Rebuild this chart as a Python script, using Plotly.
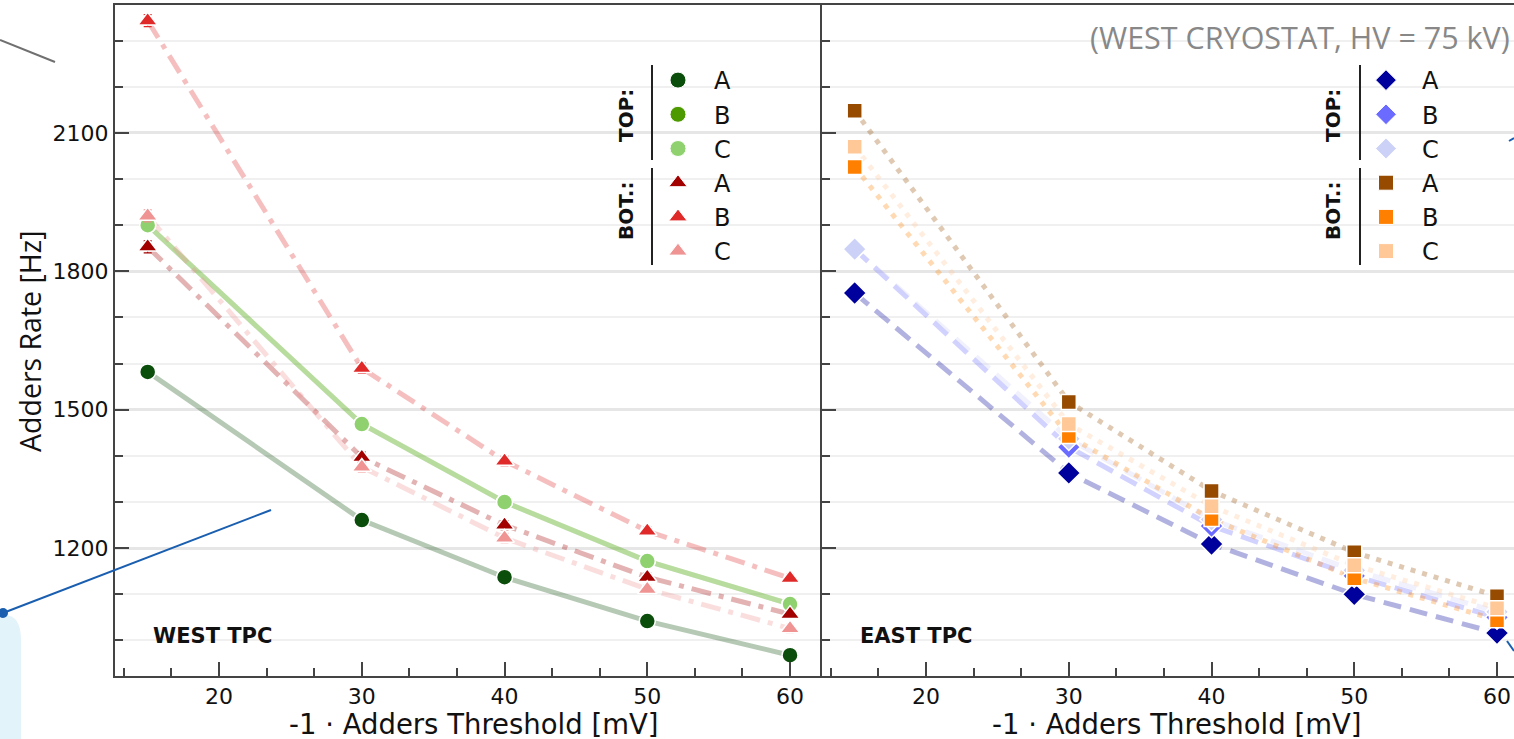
import plotly.graph_objects as go

W, H = 1514, 739

# ---------------- data ----------------
threshold = [15, 30, 40, 50, 60]

west_top_a = [1582, 1261, 1137, 1042, 968]
west_top_b = [1900, 1469, 1300, 1172, 1079]
west_top_c = [1900, 1469, 1300, 1172, 1079]
west_bot_a = [1853, 1397, 1250, 1137, 1057]
west_bot_b = [2343, 1590, 1389, 1237, 1135]
west_bot_c = [1920, 1376, 1222, 1111, 1026]

east_top_a = [1753, 1363, 1209, 1100, 1016]
east_top_b = [1848, 1419, 1248, 1140, 1050]
east_top_c = [1848, 1437, 1262, 1152, 1062]
east_bot_a = [2148, 1517, 1324, 1191, 1096]
east_bot_b = [2026, 1443, 1263, 1135, 1044]
east_bot_c = [2070, 1469, 1291, 1163, 1070]

rate_err = [13, 11, 10, 9, 9]

series_labels = ["A", "B", "C"]
x_title = "-1 · Adders Threshold [mV]"
y_title = "Adders Rate [Hz]"
note = "(WEST CRYOSTAT, HV = 75 kV)"

# ---------------- styles ----------------
def rgba(hexc, a):
    hexc = hexc.lstrip("#")
    r, g, b = int(hexc[0:2], 16), int(hexc[2:4], 16), int(hexc[4:6], 16)
    return f"rgba({r},{g},{b},{a})"

west_top_colors = ["#0b4d0b", "#4c9a00", "#8fd16f"]
west_bot_colors = ["#a30000", "#e02a2a", "#ef9393"]
east_top_colors = ["#00009c", "#6b6bff", "#ccd1f7"]
east_bot_colors = ["#964b00", "#ff8000", "#ffc896"]

def px(x):
    return x / W

def py(y):
    return 1 - y / H

fig = go.Figure()

groups = [
    # (values, colors, symbol, size, dash, xaxis, yaxis, legend)
    ([west_top_a, west_top_b, west_top_c], west_top_colors, "circle", 16, "solid", "x", "y", "legend"),
    ([west_bot_a, west_bot_b, west_bot_c], west_bot_colors, "triangle-up", 17, "20px,8px,5px,8px", "x", "y", "legend"),
    ([east_top_a, east_top_b, east_top_c], east_top_colors, "diamond", 18, "18px,9px", "x2", "y2", "legend2"),
    ([east_bot_a, east_bot_b, east_bot_c], east_bot_colors, "square", 15, "5px,7px", "x2", "y2", "legend2"),
]

# lines first (pale)
for vals, cols, sym, size, dash, xa, ya, lg in groups:
    for v, c in zip(vals, cols):
        fig.add_trace(go.Scatter(
            x=threshold, y=v, mode="lines", xaxis=xa, yaxis=ya,
            line=dict(color=rgba(c, 0.3), width=5, dash=dash),
            showlegend=False, hoverinfo="skip"))

# markers with error bars
for vals, cols, sym, size, dash, xa, ya, lg in groups:
    for v, c in zip(vals, cols):
        fig.add_trace(go.Scatter(
            x=threshold, y=v, mode="markers", xaxis=xa, yaxis=ya,
            marker=dict(symbol=sym, size=size, color=c, line=dict(color="white", width=1.5)),
            error_y=dict(type="data", array=rate_err, color=c, thickness=1.2, width=4),
            showlegend=False))

# legend entries
for vals, cols, sym, size, dash, xa, ya, lg in groups:
    for lab, c in zip(series_labels, cols):
        fig.add_trace(go.Scatter(
            x=[None], y=[None], mode="markers", xaxis=xa, yaxis=ya, name=lab,
            marker=dict(symbol=sym, size=size, color=c, line=dict(color="white", width=1)),
            legend=lg, showlegend=True))

axis_line = "#444444"
tickfont = dict(family="DejaVu Sans", size=22, color="#111111")

def xaxis_cfg(domain, rng, anchor):
    return dict(domain=domain, range=rng, anchor=anchor, showline=True, linecolor=axis_line,
                linewidth=2, mirror=True, ticks="inside", ticklen=14, tickwidth=2,
                tickcolor=axis_line, dtick=10, tick0=0, tickfont=tickfont,
                showgrid=False, zeroline=False,
                minor=dict(ticks="inside", ticklen=8, tickwidth=1.5, tickcolor=axis_line,
                           dtick=10 / 3, tick0=0, showgrid=False))

def yaxis_cfg(anchor, labels):
    return dict(domain=[(H - 676) / H, (H - 5) / H], range=[923, 2377], anchor=anchor,
                showline=True, linecolor=axis_line, linewidth=2, mirror=False,
                ticks="inside", ticklen=14, tickwidth=2, tickcolor=axis_line,
                dtick=300, tick0=0, tickfont=tickfont, showticklabels=labels,
                showgrid=True, gridcolor="#e6e6e6", gridwidth=2.5, zeroline=False,
                minor=dict(ticks="inside", ticklen=8, tickwidth=1.5, tickcolor=axis_line,
                           dtick=100, tick0=0, showgrid=True, gridcolor="#f0f0f0", gridwidth=2))

y2 = yaxis_cfg("x2", False)
y2["matches"] = "y"

legend_font = dict(family="DejaVu Sans", size=24, color="#111111")

fig.update_layout(
    width=W, height=H,
    margin=dict(l=0, r=0, t=0, b=0, pad=0),
    paper_bgcolor="white", plot_bgcolor="white",
    xaxis=xaxis_cfg([115 / W, 822 / W], [12.71, 62.24], "y"),
    xaxis2=xaxis_cfg([822 / W, 1.0], [12.71, 61.19], "y2"),
    yaxis=yaxis_cfg("x", True),
    yaxis2=y2,
    legend=dict(x=px(642), y=py(58), xanchor="left", yanchor="top", font=legend_font,
                itemwidth=62, tracegroupgap=0, bgcolor="rgba(0,0,0,0)", borderwidth=0),
    legend2=dict(x=px(1350), y=py(58), xanchor="left", yanchor="top", font=legend_font,
                 itemwidth=62, tracegroupgap=0, bgcolor="rgba(0,0,0,0)", borderwidth=0),
)

ann = []
# axis titles
ann.append(dict(text=y_title, x=px(30), y=py(341), xref="paper", yref="paper", showarrow=False,
                textangle=-90, xanchor="center", yanchor="middle",
                font=dict(family="Open Sans", size=28.5, color="#111111")))
for cx in (474, 1177):
    ann.append(dict(text=x_title, x=px(cx), y=py(724), xref="paper", yref="paper", showarrow=False,
                    xanchor="center", yanchor="middle",
                    font=dict(family="DejaVu Sans", size=27.5, color="#111111")))
# panel labels
ann.append(dict(text="<b>WEST TPC</b>", x=px(151), y=py(636), xref="paper", yref="paper",
                showarrow=False, xanchor="left", yanchor="middle",
                font=dict(family="DejaVu Sans", size=21, color="#111111")))
ann.append(dict(text="<b>EAST TPC</b>", x=px(858), y=py(636), xref="paper", yref="paper",
                showarrow=False, xanchor="left", yanchor="middle",
                font=dict(family="DejaVu Sans", size=21, color="#111111")))
# note
ann.append(dict(text=note, x=px(1512), y=py(37), xref="paper", yref="paper", showarrow=False,
                xanchor="right", yanchor="middle",
                font=dict(family="Open Sans", size=30.5, color="#888888")))
# legend group labels
for lx in (626, 1333):
    ann.append(dict(text="<b>TOP:</b>", x=px(lx), y=py(116), xref="paper", yref="paper",
                    showarrow=False, textangle=-90, xanchor="center", yanchor="middle",
                    font=dict(family="DejaVu Sans", size=20, color="#111111")))
    ann.append(dict(text="<b>BOT.:</b>", x=px(lx), y=py(211), xref="paper", yref="paper",
                    showarrow=False, textangle=-90, xanchor="center", yanchor="middle",
                    font=dict(family="DejaVu Sans", size=20, color="#111111")))
fig.update_layout(annotations=ann)

shapes = []
for lx in (652, 1360):
    shapes.append(dict(type="line", xref="paper", yref="paper", x0=px(lx), x1=px(lx),
                       y0=py(65), y1=py(160), line=dict(color="#222222", width=2)))
    shapes.append(dict(type="line", xref="paper", yref="paper", x0=px(lx), x1=px(lx),
                       y0=py(168), y1=py(265), line=dict(color="#222222", width=2)))

# overlay artefacts visible in the screenshot
rect_path = (f"M {px(0)},{py(615)} L {px(4)},{py(615)} Q {px(21)},{py(615)} {px(21)},{py(640)} "
             f"L {px(21)},{py(739)} L {px(0)},{py(739)} Z")
shapes.append(dict(type="path", xref="paper", yref="paper", path=rect_path,
                   fillcolor="#e3f3fa", line=dict(width=0)))
shapes.append(dict(type="line", xref="paper", yref="paper", x0=px(0), y0=py(40), x1=px(55), y1=py(62),
                   line=dict(color="#707070", width=2)))
shapes.append(dict(type="line", xref="paper", yref="paper", x0=px(3), y0=py(613), x1=px(271), y1=py(510),
                   line=dict(color="#1a5eb0", width=2)))
shapes.append(dict(type="circle", xref="paper", yref="paper", x0=px(-2), y0=py(608), x1=px(8), y1=py(618),
                   fillcolor="#1a5eb0", line=dict(width=0)))
shapes.append(dict(type="line", xref="paper", yref="paper", x0=px(1509), y0=py(141), x1=px(1514), y1=py(138),
                   line=dict(color="#1a5eb0", width=2)))
shapes.append(dict(type="line", xref="paper", yref="paper", x0=px(1507), y0=py(641), x1=px(1514), y1=py(651),
                   line=dict(color="#1a5eb0", width=2)))
fig.update_layout(shapes=shapes)

fig.write_html("out.html")
